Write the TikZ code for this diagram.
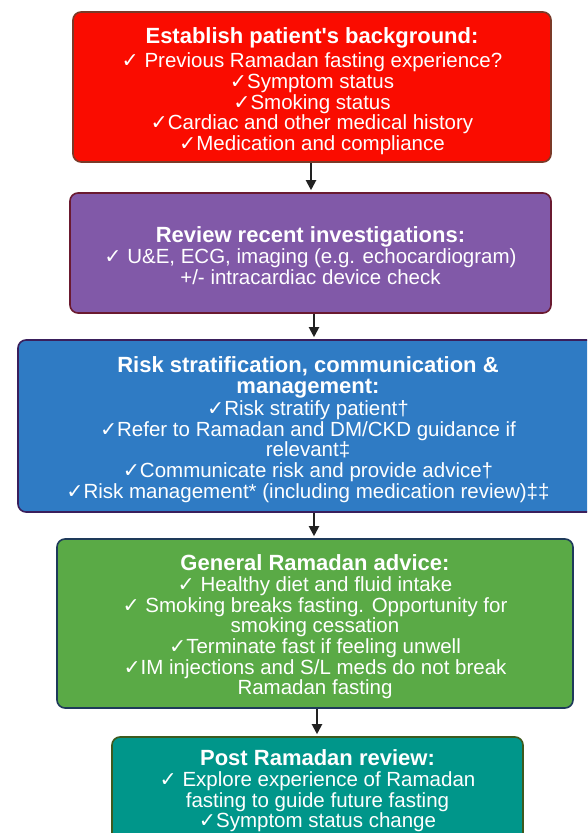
\documentclass[tikz,border=0pt]{standalone}
\usepackage{fontspec}
\setmainfont{Liberation Sans}
\newfontfamily\chkfont{DejaVu Sans}
\newfontfamily\apfont{Liberation Sans}
\newcommand{\ck}{{\chkfont\char"2713}}
\newcommand{\apos}{{\apfont'}}
\usetikzlibrary{arrows.meta}
\definecolor{redfill}{HTML}{FA0C00}
\definecolor{redline}{HTML}{7A3A28}
\definecolor{purfill}{HTML}{8159A8}
\definecolor{purline}{HTML}{6A1A30}
\definecolor{bluefill}{HTML}{2F7BC4}
\definecolor{blueline}{HTML}{3A1F5C}
\definecolor{grnfill}{HTML}{5AAA46}
\definecolor{grnline}{HTML}{1E3A5A}
\definecolor{tealfill}{HTML}{00968A}
\definecolor{tealline}{HTML}{3D5A1E}
\definecolor{arrowcol}{HTML}{222222}
\newcommand{\ttl}[1]{{\fontsize{22}{22}\selectfont\bfseries #1}}
\begin{document}
\begin{tikzpicture}[x=1pt,y=-1pt,
  box/.style={draw, line width=1.6pt, rounded corners=8pt, inner sep=0pt},
  txt/.style={align=center, text=white, font=\fontsize{20.5}{20.7}\selectfont, inner sep=0pt},
  flow/.style={draw=arrowcol, line width=2pt, -{Triangle[length=10pt,width=10pt]}, shorten >=2pt}]
\clip (0,0) rectangle (587,833);
\useasboundingbox (0,0) rectangle (587,833);
\fill[white] (0,0) rectangle (587,833);
% boxes
\node[box, fill=redfill, draw=redline, minimum width=478pt, minimum height=150pt] (b1) at (312,87) {};
\node[box, fill=purfill, draw=purline, minimum width=481pt, minimum height=120pt] (b2) at (310.5,253) {};
\node[box, fill=bluefill, draw=blueline, minimum width=580pt, minimum height=172pt] (b3) at (308,426) {};
\node[box, fill=grnfill, draw=grnline, minimum width=516pt, minimum height=169pt] (b4) at (315,623.5) {};
\node[box, fill=tealfill, draw=tealline, minimum width=411pt, minimum height=104pt] (b5) at (317.5,789) {};
% texts
\node[txt] (t1) at ([yshift=-4pt]b1.center)
 {\ttl{Establish patient\apos s background:}\\[4pt]
  \ck{} Previous Ramadan fasting experience?\\
  \ck Symptom status\\
  \ck Smoking status\\
  \ck Cardiac and other medical history\\
  \ck Medication and compliance};
\node[txt] (t2) at ([yshift=-2.5pt]b2.center)
 {\ttl{Review recent investigations:}\\[1pt]
  \ck{} U\&E, ECG, imaging (e.g. echocardiogram)\\
  +/- intracardiac device check};
\node[txt] (t3) at ([yshift=-3.5pt]b3.center)
 {\ttl{Risk stratification, communication \&}\\[0.5pt]
  \ttl{management:}\\[1pt]
  \ck Risk stratify patient†\\
  \ck Refer to Ramadan and DM/CKD guidance if\\
  relevant‡\\
  \ck Communicate risk and provide advice†\\
  \ck Risk management* (including medication review)‡‡};
\node[txt] (t4) at ([yshift=-3.5pt]b4.center)
 {\ttl{General Ramadan advice:}\\
  \ck{} Healthy diet and fluid intake\\
  \ck{} Smoking breaks fasting. Opportunity for\\
  smoking cessation\\
  \ck Terminate fast if feeling unwell\\
  \ck IM injections and S/L meds do not break\\
  Ramadan fasting};
\node[txt] (t5) at ([yshift=-2pt]b5.center)
 {\ttl{Post Ramadan review:}\\
  \ck{} Explore experience of Ramadan\\
  fasting to guide future fasting\\
  \ck Symptom status change};
% connectors
\draw[flow] (b1.south -| 311,0) -- (b2.north -| 311,0);
\draw[flow] (b2.south -| 314,0) -- (b3.north -| 314,0);
\draw[flow] (b3.south -| 314,0) -- (b4.north -| 314,0);
\draw[flow] (b4.south -| 317,0) -- (b5.north -| 317,0);
\end{tikzpicture}
\end{document}
